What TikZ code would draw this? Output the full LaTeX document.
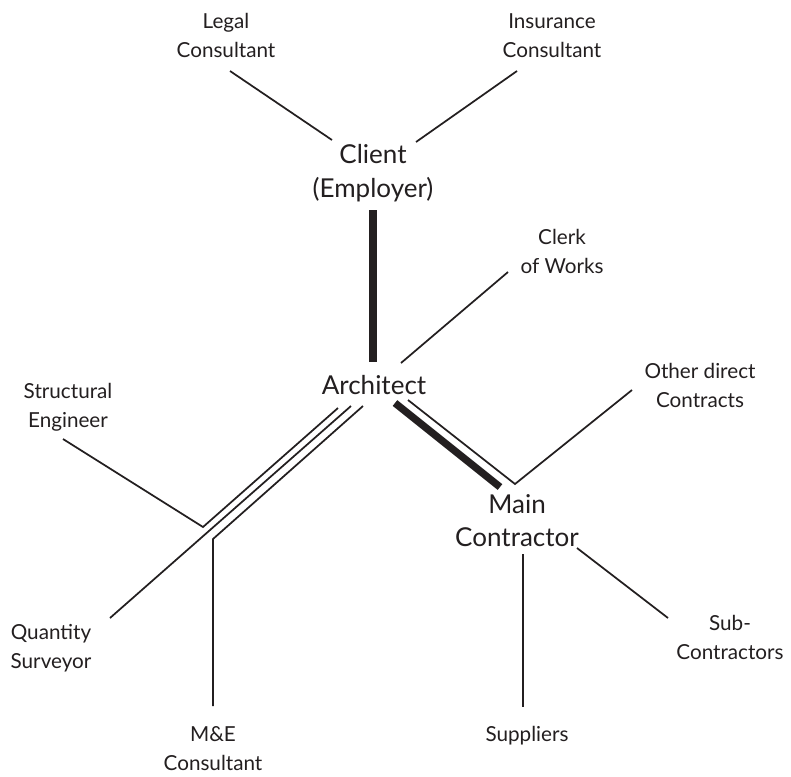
\documentclass[tikz,border=0pt]{standalone}
\usepackage{fontspec}
\setmainfont{Lato}
\definecolor{ink}{HTML}{231F20}
\begin{document}
\begin{tikzpicture}[x=0.75pt,y=-0.75pt,
  lbl/.style={font=\fontsize{15.5}{21.75}\selectfont, align=center, inner sep=0pt, text=ink},
  big/.style={font=\fontsize{19.5}{25}\selectfont, align=center, inner sep=0pt, text=ink},
  link/.style={draw=ink, line width=1.3pt},
  strong/.style={draw=ink, line width=5.5pt},
]
\useasboundingbox[fill=white] (0,0) rectangle (791,776);
% labels
\node[lbl] (legal) at (226,35.5) {Legal\\Consultant};
\node[lbl] (insurance) at (552,35.5) {Insurance\\Consultant};
\node[big] (client) at (373,173) {Client\\(Employer)};
\node[lbl] (clerk) at (562,251) {Clerk\\of Works};
\node[big] (architect) at (374,385) {Architect};
\node[lbl] (other) at (700,385.5) {Other direct\\Contracts};
\node[lbl] (structural) at (68,407.5) {Structural\\Engineer};
\node[big] (main) at (517,520.5) {Main\\Contractor};
\node[lbl] (quantity) at (51,648) {Quantity\\Surveyor};
\node[lbl] (sub) at (730,637.5) {Sub-\\Contractors};
\node[lbl] (suppliers) at (527,736) {Suppliers};
\node[lbl] (me) at (213,748.5) {M\&E\\Consultant};
% connector end points
\coordinate (legalA) at (230,71);   \coordinate (legalB) at (332,140);
\coordinate (insA) at (517,71);     \coordinate (insB) at (416,142);
\coordinate (clientC) at (373,210); \coordinate (archC) at (373,362);
\coordinate (clerkA) at (508,272);  \coordinate (clerkB) at (401,363);
\coordinate (archM) at (395,403);   \coordinate (mainM) at (500,487);
\coordinate (archT) at (408,400);   \coordinate (mainT) at (515,484);
\coordinate (otherA) at (632,390);
\coordinate (archS) at (338,408);   \coordinate (kneeS) at (203,527);
\coordinate (structA) at (63,439);
\coordinate (archQ) at (351,406);   \coordinate (quantA) at (110,618);
\coordinate (archE) at (363,406);   \coordinate (kneeE) at (213,539);
\coordinate (meA) at (213,706);
\coordinate (mainS) at (523,554);   \coordinate (suppA) at (523,707);
\coordinate (mainU) at (577,548);   \coordinate (subA) at (668,618);
% connectors
\draw[link] (legalA) -- (legalB);
\draw[link] (insA) -- (insB);
\draw[strong] (clientC) -- (archC);
\draw[link] (clerkA) -- (clerkB);
\draw[strong] (archM) -- (mainM);
\draw[link] (archT) -- (mainT) -- (otherA);
\draw[link] (archS) -- (kneeS) -- (structA);
\draw[link] (archQ) -- (quantA);
\draw[link] (archE) -- (kneeE) -- (meA);
\draw[link] (mainS) -- (suppA);
\draw[link] (mainU) -- (subA);
\end{tikzpicture}
\end{document}
